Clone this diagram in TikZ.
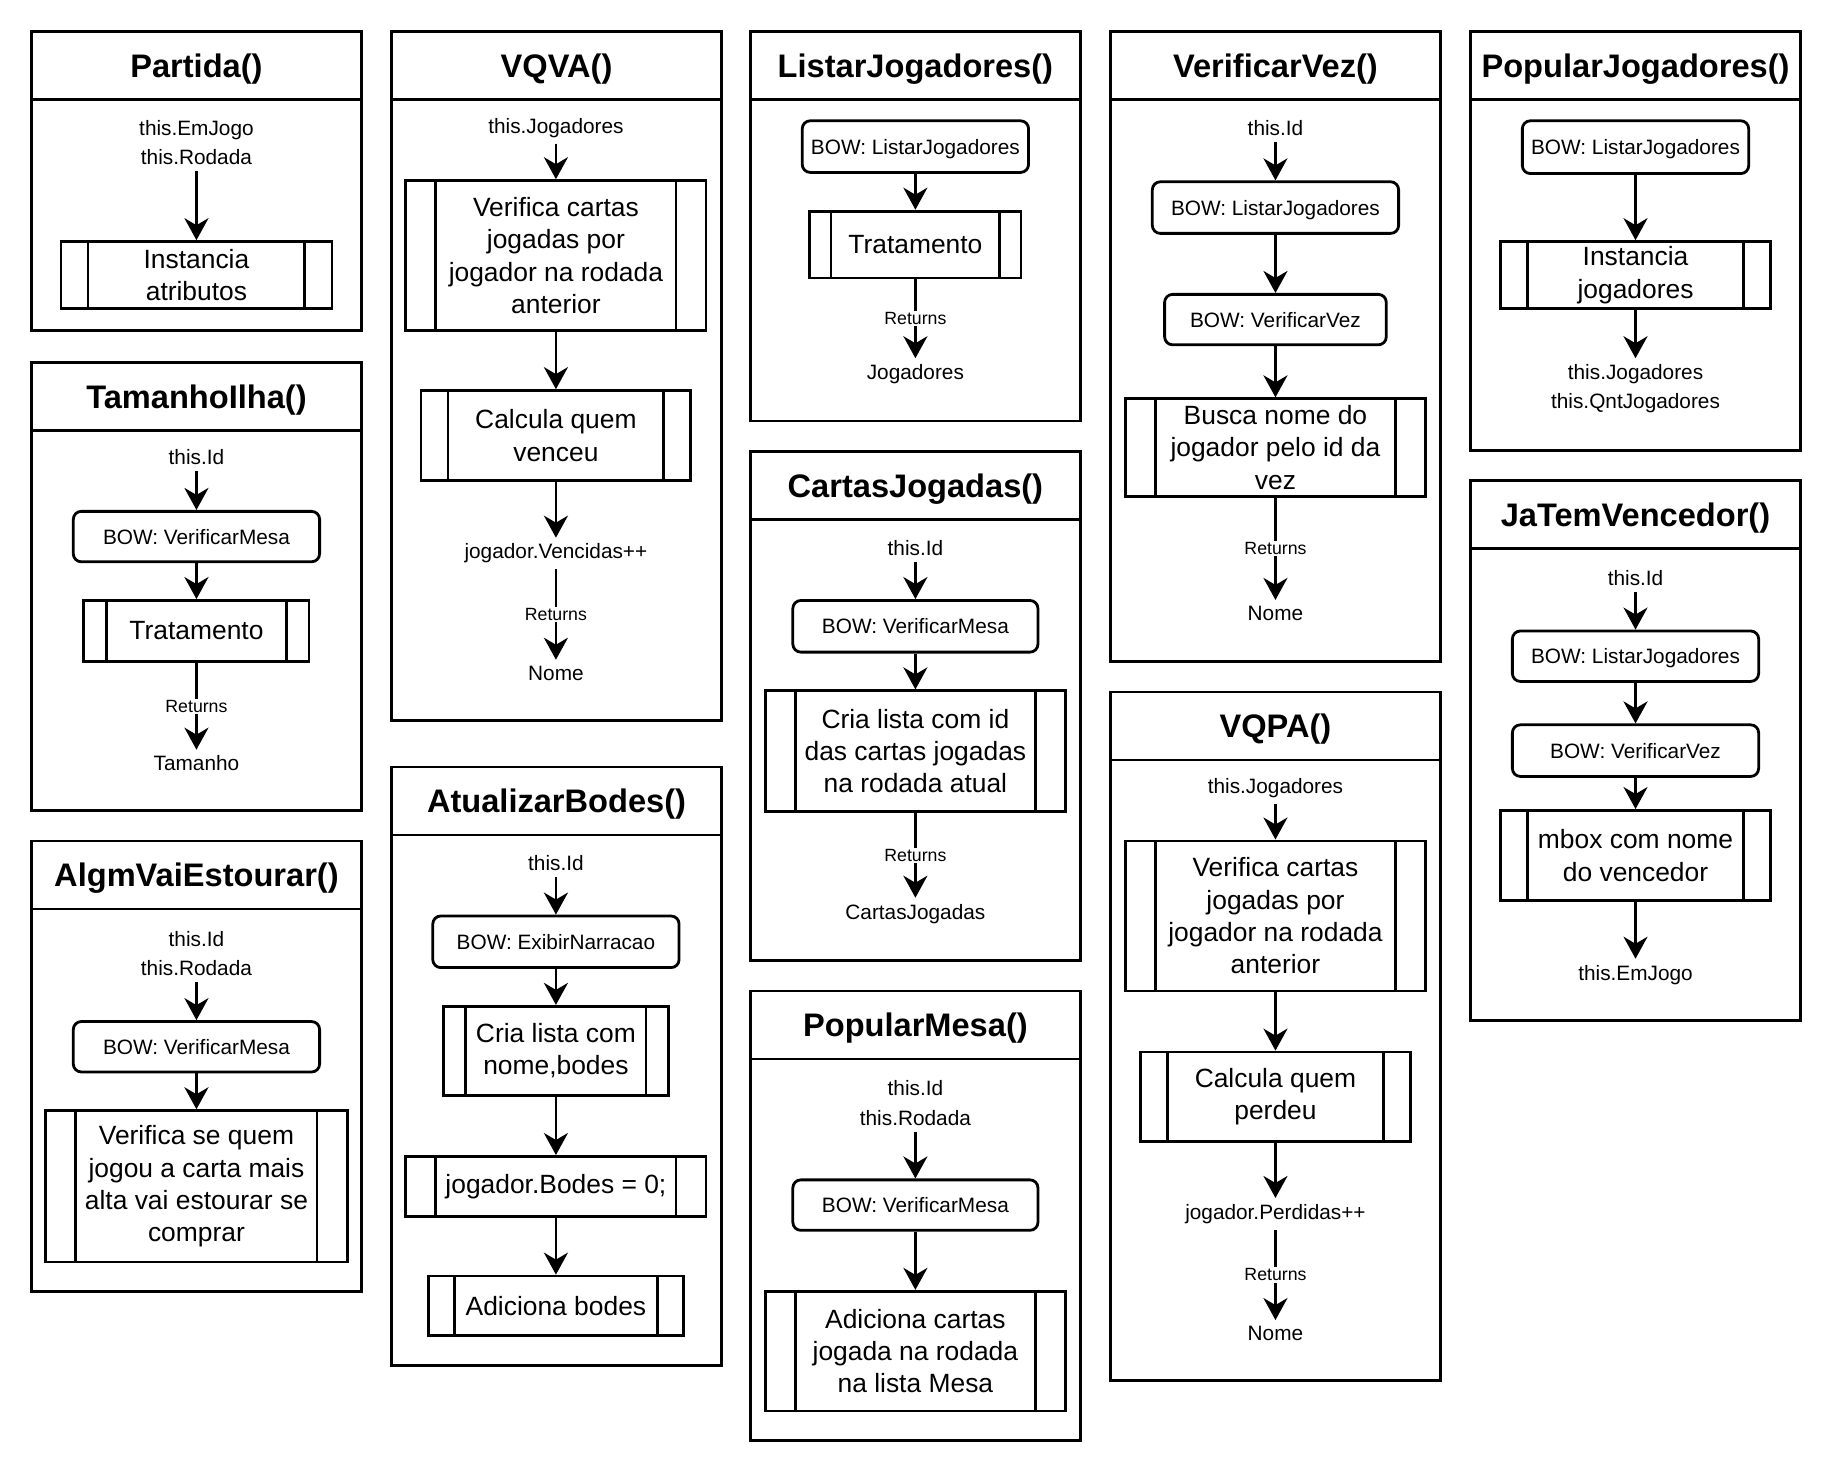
\documentclass[tikz,border=0pt]{standalone}
\usepackage{fontspec}
\setmainfont{Liberation Sans}
\usetikzlibrary{arrows.meta,calc}

\tikzset{
  thickline/.style={line width=2.8pt},
  panelhead/.style={draw, thickline, inner sep=0pt, outer sep=0pt,
    font=\bfseries\fontsize{32.6}{38}\selectfont, text height=23.5pt, text depth=0pt},
  panelbody/.style={draw, thickline, inner sep=0pt, outer sep=0pt},
  bowbox/.style={draw, thickline, rounded corners=8pt, inner sep=0pt, outer sep=1.4pt,
    font=\fontsize{20.8}{25}\selectfont, text height=15pt, text depth=0pt},
  procbox/.style={draw, thickline, inner sep=0pt, outer sep=1.4pt, align=center,
    font=\fontsize{26.4}{32.3}\selectfont,
    path picture={
      \draw[thickline]
        ($(path picture bounding box.north west)!0.1!(path picture bounding box.north east)$)
        -- ($(path picture bounding box.south west)!0.1!(path picture bounding box.south east)$);
      \draw[thickline]
        ($(path picture bounding box.north east)!0.1!(path picture bounding box.north west)$)
        -- ($(path picture bounding box.south east)!0.1!(path picture bounding box.south west)$);
    }},
  lbltext/.style={inner sep=6pt, align=center, font=\fontsize{20.8}{29.3}\selectfont},
  rettext/.style={fill=white, inner sep=1.5pt, font=\fontsize{17.7}{20}\selectfont},
  flowarrow/.style={thickline, -{Stealth[length=22pt, width=24pt, inset=7pt]}},
}

% box from corner (#3,#4) to corner (#5,#6): #1 style, #2 name, #7 text
\newcommand\boxnode[7]{%
  \node[#1, minimum width={((#5)-(#3))*1.1728pt}, minimum height={((#6)-(#4))*1.1728pt}]
    (#2) at ({((#3)+(#5))/2},{((#4)+(#6))/2}) {#7};
}

% panel: #1 name, #2 left, #3 top, #4 bottom, #5 title
\newcommand\drawpanel[5]{%
  \boxnode{panelbody}{#1b}{#2}{#3+58}{#2+281}{#4}{}
  \boxnode{panelhead}{#1h}{#2}{#3}{#2+281}{#3+58}{#5}
}

\begin{document}
\begin{tikzpicture}[x=1.1728pt, y=-1.1728pt]
\fill[white] (0,0) rectangle (1568,1251);
\useasboundingbox (0,0) rectangle (1568,1251);

% ---------- Partida()
\drawpanel{pa}{27}{27}{282}{Partida()}
\node[lbltext] (pa1) at (167.5,121.5) {this.EmJogo\\this.Rodada};
\boxnode{procbox}{pa2}{52}{206}{283}{263}{Instancia\\atributos}
\draw[flowarrow] (pa1.south) -- (pa2.north);

% ---------- TamanhoIlha()
\drawpanel{pb}{27}{309}{691}{TamanhoIlha()}
\node[lbltext] (pb1) at (167.5,390) {this.Id};
\boxnode{bowbox}{pb2}{62.5}{436}{272.5}{479}{BOW: VerificarMesa}
\boxnode{procbox}{pb3}{71.5}{512}{263.5}{564}{Tratamento}
\node[lbltext] (pb4) at (167.5,651) {Tamanho};
\draw[flowarrow] (pb1.south) -- (pb2.north);
\draw[flowarrow] (pb2.south) -- (pb3.north);
\draw[flowarrow] (pb3.south) -- node[rettext] {Returns} (pb4.north);

% ---------- AlgmVaiEstourar()
\drawpanel{pc}{27}{717}{1101}{AlgmVaiEstourar()}
\node[lbltext] (pc1) at (167.5,813) {this.Id\\this.Rodada};
\boxnode{bowbox}{pc2}{62.5}{871}{272.5}{914}{BOW: VerificarMesa}
\boxnode{procbox}{pc3}{39}{947}{296}{1076}{Verifica se quem\\jogou a carta mais\\alta vai estourar se\\comprar}
\draw[flowarrow] (pc1.south) -- (pc2.north);
\draw[flowarrow] (pc2.south) -- (pc3.north);

% ---------- VQVA()
\drawpanel{pd}{334}{27}{614}{VQVA()}
\node[lbltext] (pd1) at (474,109) {this.Jogadores};
\boxnode{procbox}{pd2}{346}{154}{602}{282}{Verifica cartas\\jogadas por\\jogador na rodada\\anterior}
\boxnode{procbox}{pd3}{359}{333}{589}{410}{Calcula quem\\venceu}
\node[lbltext] (pd4) at (474,472) {jogador.Vencidas++};
\node[lbltext] (pd5) at (474,574) {Nome};
\draw[flowarrow] (pd1.south) -- (pd2.north);
\draw[flowarrow] (pd2.south) -- (pd3.north);
\draw[flowarrow] (pd3.south) -- (pd4.north);
\draw[flowarrow] (pd4.south) -- node[rettext] {Returns} (pd5.north);

% ---------- AtualizarBodes()
\drawpanel{pe}{334}{654}{1164}{AtualizarBodes()}
\node[lbltext] (pe1) at (474,736) {this.Id};
\boxnode{bowbox}{pe2}{369}{781}{579}{825}{BOW: ExibirNarracao}
\boxnode{procbox}{pe3}{378}{858}{570}{934}{Cria lista com\\nome,bodes}
\boxnode{procbox}{pe4}{346}{986}{602}{1037}{jogador.Bodes = 0;}
\boxnode{procbox}{pe5}{365.5}{1088}{582.5}{1139}{Adiciona bodes}
\draw[flowarrow] (pe1.south) -- (pe2.north);
\draw[flowarrow] (pe2.south) -- (pe3.north);
\draw[flowarrow] (pe3.south) -- (pe4.north);
\draw[flowarrow] (pe4.south) -- (pe5.north);

% ---------- ListarJogadores()
\drawpanel{pf}{640}{27}{359}{ListarJogadores()}
\boxnode{bowbox}{pf1}{684}{103}{877}{147}{BOW: ListarJogadores}
\boxnode{procbox}{pf2}{690.5}{180}{870.5}{237}{Tratamento}
\node[lbltext] (pf3) at (780.5,319) {Jogadores};
\draw[flowarrow] (pf1.south) -- (pf2.north);
\draw[flowarrow] (pf2.south) -- node[rettext] {Returns} (pf3.north);

% ---------- CartasJogadas()
\drawpanel{pg}{640}{385}{819}{CartasJogadas()}
\node[lbltext] (pg1) at (780.5,467) {this.Id};
\boxnode{bowbox}{pg2}{676}{512}{885}{556}{BOW: VerificarMesa}
\boxnode{procbox}{pg3}{652.5}{589}{908.5}{692}{Cria lista com id\\das cartas jogadas\\na rodada atual}
\node[lbltext] (pg4) at (780.5,779) {CartasJogadas};
\draw[flowarrow] (pg1.south) -- (pg2.north);
\draw[flowarrow] (pg2.south) -- (pg3.north);
\draw[flowarrow] (pg3.south) -- node[rettext] {Returns} (pg4.north);

% ---------- PopularMesa()
\drawpanel{ph}{640}{845}{1228}{PopularMesa()}
\node[lbltext] (ph1) at (780.5,940.5) {this.Id\\this.Rodada};
\boxnode{bowbox}{ph2}{676}{1006}{885}{1049}{BOW: VerificarMesa}
\boxnode{procbox}{ph3}{652.5}{1101}{908.5}{1203}{Adiciona cartas\\jogada na rodada\\na lista Mesa}
\draw[flowarrow] (ph1.south) -- (ph2.north);
\draw[flowarrow] (ph2.south) -- (ph3.north);

% ---------- VerificarVez()
\drawpanel{pi}{947}{27}{564}{VerificarVez()}
\node[lbltext] (pi1) at (1087.5,109) {this.Id};
\boxnode{bowbox}{pi2}{982.5}{155}{1192.5}{199}{BOW: ListarJogadores}
\boxnode{bowbox}{pi3}{993}{251}{1182}{294}{BOW: VerificarVez}
\boxnode{procbox}{pi4}{959.5}{340}{1215.5}{423}{Busca nome do\\jogador pelo id da\\vez}
\node[lbltext] (pi5) at (1087.5,523) {Nome};
\draw[flowarrow] (pi1.south) -- (pi2.north);
\draw[flowarrow] (pi2.south) -- (pi3.north);
\draw[flowarrow] (pi3.south) -- (pi4.north);
\draw[flowarrow] (pi4.south) -- node[rettext] {Returns} (pi5.north);

% ---------- VQPA()
\drawpanel{pj}{947}{590}{1177}{VQPA()}
\node[lbltext] (pj1) at (1087.5,672) {this.Jogadores};
\boxnode{procbox}{pj2}{959.5}{717}{1215.5}{845}{Verifica cartas\\jogadas por\\jogador na rodada\\anterior}
\boxnode{procbox}{pj3}{972.5}{897}{1202.5}{973}{Calcula quem\\perdeu}
\node[lbltext] (pj4) at (1087.5,1035) {jogador.Perdidas++};
\node[lbltext] (pj5) at (1087.5,1137) {Nome};
\draw[flowarrow] (pj1.south) -- (pj2.north);
\draw[flowarrow] (pj2.south) -- (pj3.north);
\draw[flowarrow] (pj3.south) -- (pj4.north);
\draw[flowarrow] (pj4.south) -- node[rettext] {Returns} (pj5.north);

% ---------- PopularJogadores()
\drawpanel{pk}{1254}{27}{384}{PopularJogadores()}
\boxnode{bowbox}{pk1}{1298}{103}{1491}{148}{BOW: ListarJogadores}
\boxnode{procbox}{pk2}{1279.5}{206}{1509.5}{263}{Instancia\\jogadores}
\node[lbltext] (pk3) at (1394.5,331.5) {this.Jogadores\\this.QntJogadores};
\draw[flowarrow] (pk1.south) -- (pk2.north);
\draw[flowarrow] (pk2.south) -- (pk3.north);

% ---------- JaTemVencedor()
\drawpanel{pl}{1254}{410}{870}{JaTemVencedor()}
\node[lbltext] (pl1) at (1394.5,493) {this.Id};
\boxnode{bowbox}{pl2}{1289.5}{538}{1499.5}{581}{BOW: ListarJogadores}
\boxnode{bowbox}{pl3}{1289.5}{618}{1499.5}{662}{BOW: VerificarVez}
\boxnode{procbox}{pl4}{1279.5}{691}{1509.5}{768}{mbox com nome\\do vencedor}
\node[lbltext] (pl5) at (1394.5,831) {this.EmJogo};
\draw[flowarrow] (pl1.south) -- (pl2.north);
\draw[flowarrow] (pl2.south) -- (pl3.north);
\draw[flowarrow] (pl3.south) -- (pl4.north);
\draw[flowarrow] (pl4.south) -- (pl5.north);

\end{tikzpicture}
\end{document}
